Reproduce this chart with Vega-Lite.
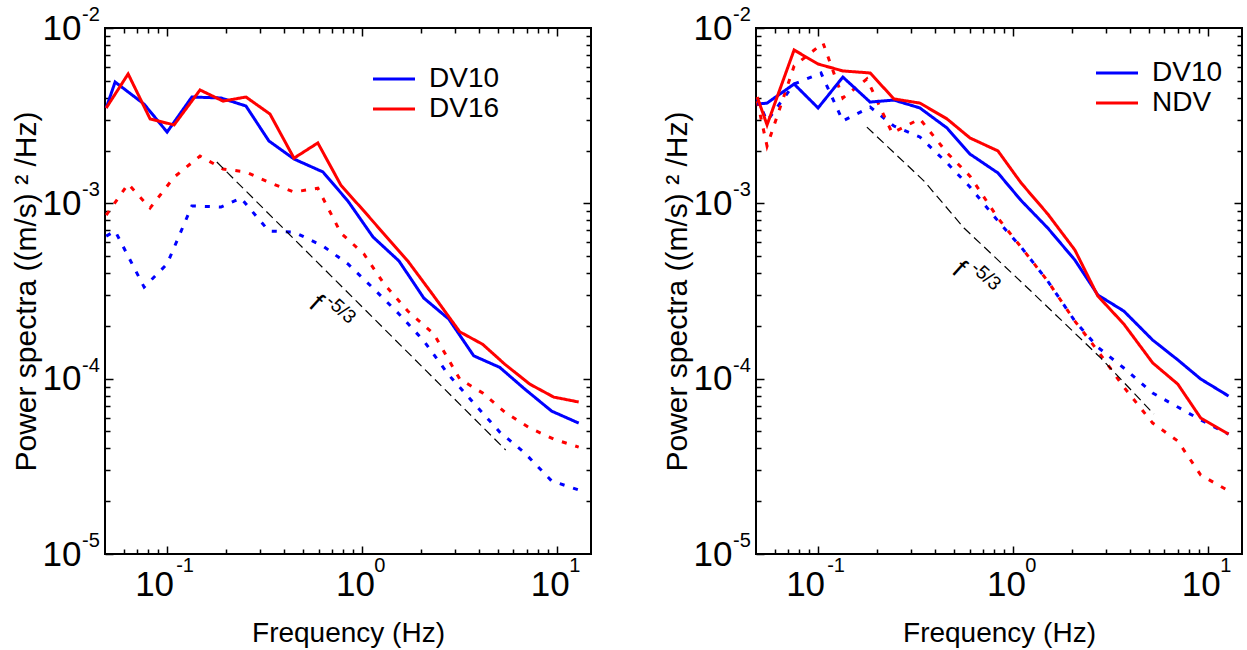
{
  "$schema": "https://vega.github.io/schema/vega-lite/v6.json",
  "padding": {"left": 9, "top": 4, "right": 2, "bottom": 2},
  "spacing": 67,
  "datasets": {
    "left": [
      {"series": "DV10", "kind": "dotted", "f": 0.0487, "p": 6.50e-4},
      {"series": "DV10", "kind": "dotted", "f": 0.0541, "p": 6.95e-4},
      {"series": "DV10", "kind": "dotted", "f": 0.0762, "p": 3.33e-4},
      {"series": "DV10", "kind": "dotted", "f": 0.1, "p": 4.51e-4},
      {"series": "DV10", "kind": "dotted", "f": 0.134, "p": 9.66e-4},
      {"series": "DV10", "kind": "dotted", "f": 0.189, "p": 9.53e-4},
      {"series": "DV10", "kind": "dotted", "f": 0.2396, "p": 1.07e-3},
      {"series": "DV10", "kind": "dotted", "f": 0.333, "p": 6.95e-4},
      {"series": "DV10", "kind": "dotted", "f": 0.448, "p": 6.86e-4},
      {"series": "DV10", "kind": "dotted", "f": 0.631, "p": 5.71e-4},
      {"series": "DV10", "kind": "dotted", "f": 0.848, "p": 4.51e-4},
      {"series": "DV10", "kind": "dotted", "f": 1.14, "p": 3.29e-4},
      {"series": "DV10", "kind": "dotted", "f": 1.55, "p": 2.34e-4},
      {"series": "DV10", "kind": "dotted", "f": 2.08, "p": 1.64e-4},
      {"series": "DV10", "kind": "dotted", "f": 2.79, "p": 1.05e-4},
      {"series": "DV10", "kind": "dotted", "f": 3.75, "p": 7.26e-5},
      {"series": "DV10", "kind": "dotted", "f": 5.10, "p": 4.96e-5},
      {"series": "DV10", "kind": "dotted", "f": 6.85, "p": 3.77e-5},
      {"series": "DV10", "kind": "dotted", "f": 9.42, "p": 2.61e-5},
      {"series": "DV10", "kind": "dotted", "f": 12.97, "p": 2.32e-5},
      {"series": "DV16", "kind": "dotted", "f": 0.0487, "p": 8.57e-4},
      {"series": "DV16", "kind": "dotted", "f": 0.0631, "p": 1.29e-3},
      {"series": "DV16", "kind": "dotted", "f": 0.0818, "p": 9.40e-4},
      {"series": "DV16", "kind": "dotted", "f": 0.1086, "p": 1.41e-3},
      {"series": "DV16", "kind": "dotted", "f": 0.1476, "p": 1.86e-3},
      {"series": "DV16", "kind": "dotted", "f": 0.1937, "p": 1.57e-3},
      {"series": "DV16", "kind": "dotted", "f": 0.254, "p": 1.51e-3},
      {"series": "DV16", "kind": "dotted", "f": 0.3375, "p": 1.31e-3},
      {"series": "DV16", "kind": "dotted", "f": 0.448, "p": 1.16e-3},
      {"series": "DV16", "kind": "dotted", "f": 0.594, "p": 1.22e-3},
      {"series": "DV16", "kind": "dotted", "f": 0.780, "p": 6.77e-4},
      {"series": "DV16", "kind": "dotted", "f": 1.024, "p": 5.14e-4},
      {"series": "DV16", "kind": "dotted", "f": 1.30, "p": 3.47e-4},
      {"series": "DV16", "kind": "dotted", "f": 1.72, "p": 2.43e-4},
      {"series": "DV16", "kind": "dotted", "f": 2.34, "p": 1.80e-4},
      {"series": "DV16", "kind": "dotted", "f": 3.18, "p": 9.95e-5},
      {"series": "DV16", "kind": "dotted", "f": 4.17, "p": 8.28e-5},
      {"series": "DV16", "kind": "dotted", "f": 5.41, "p": 6.45e-5},
      {"series": "DV16", "kind": "dotted", "f": 7.27, "p": 5.23e-5},
      {"series": "DV16", "kind": "dotted", "f": 9.66, "p": 4.52e-5},
      {"series": "DV16", "kind": "dotted", "f": 12.97, "p": 4.07e-5},
      {"series": "DV10", "kind": "solid", "f": 0.0487, "p": 3.50e-3},
      {"series": "DV10", "kind": "solid", "f": 0.0541, "p": 4.92e-3},
      {"series": "DV10", "kind": "solid", "f": 0.0762, "p": 3.68e-3},
      {"series": "DV10", "kind": "solid", "f": 0.1, "p": 2.55e-3},
      {"series": "DV10", "kind": "solid", "f": 0.134, "p": 4.04e-3},
      {"series": "DV10", "kind": "solid", "f": 0.189, "p": 3.99e-3},
      {"series": "DV10", "kind": "solid", "f": 0.254, "p": 3.59e-3},
      {"series": "DV10", "kind": "solid", "f": 0.333, "p": 2.27e-3},
      {"series": "DV10", "kind": "solid", "f": 0.448, "p": 1.79e-3},
      {"series": "DV10", "kind": "solid", "f": 0.631, "p": 1.51e-3},
      {"series": "DV10", "kind": "solid", "f": 0.848, "p": 1.03e-3},
      {"series": "DV10", "kind": "solid", "f": 1.14, "p": 6.43e-4},
      {"series": "DV10", "kind": "solid", "f": 1.55, "p": 4.69e-4},
      {"series": "DV10", "kind": "solid", "f": 2.08, "p": 2.88e-4},
      {"series": "DV10", "kind": "solid", "f": 2.79, "p": 2.19e-4},
      {"series": "DV10", "kind": "solid", "f": 3.75, "p": 1.35e-4},
      {"series": "DV10", "kind": "solid", "f": 5.10, "p": 1.16e-4},
      {"series": "DV10", "kind": "solid", "f": 6.85, "p": 8.73e-5},
      {"series": "DV10", "kind": "solid", "f": 9.42, "p": 6.53e-5},
      {"series": "DV10", "kind": "solid", "f": 12.97, "p": 5.58e-5},
      {"series": "DV16", "kind": "solid", "f": 0.0487, "p": 3.50e-3},
      {"series": "DV16", "kind": "solid", "f": 0.0631, "p": 5.47e-3},
      {"series": "DV16", "kind": "solid", "f": 0.0818, "p": 3.03e-3},
      {"series": "DV16", "kind": "solid", "f": 0.1086, "p": 2.80e-3},
      {"series": "DV16", "kind": "solid", "f": 0.1476, "p": 4.43e-3},
      {"series": "DV16", "kind": "solid", "f": 0.1937, "p": 3.83e-3},
      {"series": "DV16", "kind": "solid", "f": 0.254, "p": 4.04e-3},
      {"series": "DV16", "kind": "solid", "f": 0.3375, "p": 3.23e-3},
      {"series": "DV16", "kind": "solid", "f": 0.448, "p": 1.81e-3},
      {"series": "DV16", "kind": "solid", "f": 0.594, "p": 2.21e-3},
      {"series": "DV16", "kind": "solid", "f": 0.780, "p": 1.27e-3},
      {"series": "DV16", "kind": "solid", "f": 1.024, "p": 9.04e-4},
      {"series": "DV16", "kind": "solid", "f": 1.30, "p": 6.68e-4},
      {"series": "DV16", "kind": "solid", "f": 1.72, "p": 4.69e-4},
      {"series": "DV16", "kind": "solid", "f": 2.34, "p": 2.96e-4},
      {"series": "DV16", "kind": "solid", "f": 3.18, "p": 1.85e-4},
      {"series": "DV16", "kind": "solid", "f": 4.17, "p": 1.57e-4},
      {"series": "DV16", "kind": "solid", "f": 5.41, "p": 1.21e-4},
      {"series": "DV16", "kind": "solid", "f": 7.27, "p": 9.31e-5},
      {"series": "DV16", "kind": "solid", "f": 9.66, "p": 7.85e-5},
      {"series": "DV16", "kind": "solid", "f": 12.97, "p": 7.36e-5}
    ],
    "right": [
      {"series": "DV10", "kind": "dotted", "f": 0.0487, "p": 3.94e-3},
      {"series": "DV10", "kind": "dotted", "f": 0.0547, "p": 2.95e-3},
      {"series": "DV10", "kind": "dotted", "f": 0.0753, "p": 4.79e-3},
      {"series": "DV10", "kind": "dotted", "f": 0.1035, "p": 5.54e-3},
      {"series": "DV10", "kind": "dotted", "f": 0.134, "p": 2.95e-3},
      {"series": "DV10", "kind": "dotted", "f": 0.185, "p": 3.54e-3},
      {"series": "DV10", "kind": "dotted", "f": 0.245, "p": 2.76e-3},
      {"series": "DV10", "kind": "dotted", "f": 0.333, "p": 2.39e-3},
      {"series": "DV10", "kind": "dotted", "f": 0.459, "p": 1.70e-3},
      {"series": "DV10", "kind": "dotted", "f": 0.602, "p": 1.24e-3},
      {"series": "DV10", "kind": "dotted", "f": 0.838, "p": 7.93e-4},
      {"series": "DV10", "kind": "dotted", "f": 1.10, "p": 5.64e-4},
      {"series": "DV10", "kind": "dotted", "f": 1.51, "p": 3.60e-4},
      {"series": "DV10", "kind": "dotted", "f": 2.08, "p": 2.13e-4},
      {"series": "DV10", "kind": "dotted", "f": 2.73, "p": 1.51e-4},
      {"series": "DV10", "kind": "dotted", "f": 3.71, "p": 1.15e-4},
      {"series": "DV10", "kind": "dotted", "f": 5.22, "p": 8.28e-5},
      {"series": "DV10", "kind": "dotted", "f": 7.02, "p": 6.89e-5},
      {"series": "DV10", "kind": "dotted", "f": 9.21, "p": 5.81e-5},
      {"series": "DV10", "kind": "dotted", "f": 12.8, "p": 4.83e-5},
      {"series": "NDV", "kind": "dotted", "f": 0.0487, "p": 3.83e-3},
      {"series": "NDV", "kind": "dotted", "f": 0.0547, "p": 2.12e-3},
      {"series": "NDV", "kind": "dotted", "f": 0.0753, "p": 6.07e-3},
      {"series": "NDV", "kind": "dotted", "f": 0.106, "p": 8.21e-3},
      {"series": "NDV", "kind": "dotted", "f": 0.134, "p": 3.99e-3},
      {"series": "NDV", "kind": "dotted", "f": 0.178, "p": 5.12e-3},
      {"series": "NDV", "kind": "dotted", "f": 0.240, "p": 2.52e-3},
      {"series": "NDV", "kind": "dotted", "f": 0.333, "p": 3.03e-3},
      {"series": "NDV", "kind": "dotted", "f": 0.459, "p": 1.94e-3},
      {"series": "NDV", "kind": "dotted", "f": 0.602, "p": 1.43e-3},
      {"series": "NDV", "kind": "dotted", "f": 0.838, "p": 8.24e-4},
      {"series": "NDV", "kind": "dotted", "f": 1.10, "p": 5.64e-4},
      {"series": "NDV", "kind": "dotted", "f": 1.51, "p": 3.60e-4},
      {"series": "NDV", "kind": "dotted", "f": 2.08, "p": 2.13e-4},
      {"series": "NDV", "kind": "dotted", "f": 2.73, "p": 1.44e-4},
      {"series": "NDV", "kind": "dotted", "f": 3.71, "p": 8.95e-5},
      {"series": "NDV", "kind": "dotted", "f": 5.22, "p": 5.58e-5},
      {"series": "NDV", "kind": "dotted", "f": 7.02, "p": 4.41e-5},
      {"series": "NDV", "kind": "dotted", "f": 9.21, "p": 2.82e-5},
      {"series": "NDV", "kind": "dotted", "f": 12.8, "p": 2.29e-5},
      {"series": "DV10", "kind": "solid", "f": 0.0487, "p": 3.68e-3},
      {"series": "DV10", "kind": "solid", "f": 0.0547, "p": 3.73e-3},
      {"series": "DV10", "kind": "solid", "f": 0.0753, "p": 4.79e-3},
      {"series": "DV10", "kind": "solid", "f": 0.1, "p": 3.50e-3},
      {"series": "DV10", "kind": "solid", "f": 0.134, "p": 5.25e-3},
      {"series": "DV10", "kind": "solid", "f": 0.185, "p": 3.78e-3},
      {"series": "DV10", "kind": "solid", "f": 0.245, "p": 3.88e-3},
      {"series": "DV10", "kind": "solid", "f": 0.333, "p": 3.50e-3},
      {"series": "DV10", "kind": "solid", "f": 0.459, "p": 2.69e-3},
      {"series": "DV10", "kind": "solid", "f": 0.602, "p": 1.91e-3},
      {"series": "DV10", "kind": "solid", "f": 0.838, "p": 1.49e-3},
      {"series": "DV10", "kind": "solid", "f": 1.10, "p": 1.04e-3},
      {"series": "DV10", "kind": "solid", "f": 1.51, "p": 7.23e-4},
      {"series": "DV10", "kind": "solid", "f": 2.08, "p": 4.75e-4},
      {"series": "DV10", "kind": "solid", "f": 2.73, "p": 3.00e-4},
      {"series": "DV10", "kind": "solid", "f": 3.71, "p": 2.43e-4},
      {"series": "DV10", "kind": "solid", "f": 5.22, "p": 1.66e-4},
      {"series": "DV10", "kind": "solid", "f": 7.02, "p": 1.28e-4},
      {"series": "DV10", "kind": "solid", "f": 9.21, "p": 9.95e-5},
      {"series": "DV10", "kind": "solid", "f": 12.8, "p": 7.96e-5},
      {"series": "NDV", "kind": "solid", "f": 0.0487, "p": 4.04e-3},
      {"series": "NDV", "kind": "solid", "f": 0.0547, "p": 2.80e-3},
      {"series": "NDV", "kind": "solid", "f": 0.0753, "p": 7.49e-3},
      {"series": "NDV", "kind": "solid", "f": 0.1, "p": 6.23e-3},
      {"series": "NDV", "kind": "solid", "f": 0.134, "p": 5.69e-3},
      {"series": "NDV", "kind": "solid", "f": 0.185, "p": 5.54e-3},
      {"series": "NDV", "kind": "solid", "f": 0.245, "p": 3.94e-3},
      {"series": "NDV", "kind": "solid", "f": 0.333, "p": 3.73e-3},
      {"series": "NDV", "kind": "solid", "f": 0.459, "p": 3.03e-3},
      {"series": "NDV", "kind": "solid", "f": 0.602, "p": 2.36e-3},
      {"series": "NDV", "kind": "solid", "f": 0.838, "p": 1.99e-3},
      {"series": "NDV", "kind": "solid", "f": 1.10, "p": 1.31e-3},
      {"series": "NDV", "kind": "solid", "f": 1.51, "p": 8.69e-4},
      {"series": "NDV", "kind": "solid", "f": 2.08, "p": 5.42e-4},
      {"series": "NDV", "kind": "solid", "f": 2.73, "p": 2.96e-4},
      {"series": "NDV", "kind": "solid", "f": 3.71, "p": 2.05e-4},
      {"series": "NDV", "kind": "solid", "f": 5.22, "p": 1.23e-4},
      {"series": "NDV", "kind": "solid", "f": 7.02, "p": 9.31e-5},
      {"series": "NDV", "kind": "solid", "f": 9.21, "p": 5.96e-5},
      {"series": "NDV", "kind": "solid", "f": 12.8, "p": 4.83e-5}
    ],
    "leftRef": [
      {"f": 0.18, "p": 1.72e-3},
      {"f": 5.47, "p": 3.92e-5}
    ],
    "rightRef": [
      {"f": 0.178, "p": 2.72e-3},
      {"f": 0.350, "p": 1.34e-3},
      {"f": 0.561, "p": 7.23e-4},
      {"f": 1.237, "p": 3.16e-4},
      {"f": 2.83, "p": 1.31e-4},
      {"f": 5.29, "p": 6.28e-5}
    ],
    "leftF": [{"f": 0.581, "p": 2.70e-4, "t": "f"}],
    "leftE": [{"f": 0.780, "p": 2.49e-4, "t": "-5/3"}],
    "rightF": [{"f": 0.528, "p": 4.22e-4, "t": "f"}],
    "rightE": [{"f": 0.727, "p": 3.85e-4, "t": "-5/3"}],
    "yExp": [
      {"f": 0.048, "p": 0.01, "t": "-2"},
      {"f": 0.048, "p": 0.001, "t": "-3"},
      {"f": 0.048, "p": 0.0001, "t": "-4"},
      {"f": 0.048, "p": 0.00001, "t": "-5"}
    ],
    "xExp": [
      {"f": 0.1, "p": 0.00001, "t": "-1"},
      {"f": 1, "p": 0.00001, "t": "0"},
      {"f": 10, "p": 0.00001, "t": "1"}
    ]
  },
  "hconcat": [
    {
      "width": 486,
      "height": 526,
      "resolve": {"axis": {"x": "independent", "y": "independent"}},
      "layer": [
        {
          "data": {"name": "left"},
          "mark": {"type": "line", "strokeWidth": 3},
          "encoding": {
            "x": {"field": "f", "type": "quantitative", "title": "Frequency (Hz)",
              "scale": {"type": "log", "domain": [0.048, 15], "nice": false},
              "axis": {"orient": "bottom", "values": [0.06,0.07,0.08,0.09,0.1,0.2,0.3,0.4,0.5,0.6,0.7,0.8,0.9,1,2,3,4,5,6,7,8,9,10],
                "tickSize": {"condition": {"test": "abs(log(datum.value)/LN10 - round(log(datum.value)/LN10)) < 0.001", "value": -8}, "value": -5},
                "labelExpr": "abs(log(datum.value)/LN10 - round(log(datum.value)/LN10)) < 0.001 ? '10' : ''",
                "labelOffset": {"condition": {"test": "datum.value < 0.5", "value": -13}, "value": -7},
                "labelPadding": 21, "titleY": 79, "titleBaseline": "middle"}},
            "y": {"field": "p", "type": "quantitative", "title": "Power spectra ((m/s) ² /Hz)",
              "scale": {"type": "log", "domain": [0.00001, 0.01], "nice": false},
              "axis": {"orient": "left", "values": [0.00001,0.00002,0.00003,0.00004,0.00005,0.00006,0.00007,0.00008,0.00009,0.0001,0.0002,0.0003,0.0004,0.0005,0.0006,0.0007,0.0008,0.0009,0.001,0.002,0.003,0.004,0.005,0.006,0.007,0.008,0.009,0.01],
                "tickSize": {"condition": {"test": "abs(log(datum.value)/LN10 - round(log(datum.value)/LN10)) < 0.001", "value": -8}, "value": -5},
                "labelExpr": "abs(log(datum.value)/LN10 - round(log(datum.value)/LN10)) < 0.001 ? '10' : ''",
                "labelPadding": 32, "titleX": -79, "titleBaseline": "middle", "titleFontSize": 30}},
            "color": {"field": "series", "type": "nominal",
              "scale": {"domain": ["DV10", "DV16"], "range": ["#0000ff", "#ff0000"]},
              "legend": {"orient": "none", "legendX": 275, "legendY": 37, "title": null, "symbolType": "M-3,0H3", "symbolSize": 196, "symbolStrokeWidth": 3, "labelFontSize": 28, "labelFont": "Liberation Sans", "labelColor": "black", "labelOffset": 21, "rowPadding": 2, "padding": 0}},
            "strokeDash": {"field": "kind", "type": "nominal",
              "scale": {"domain": ["solid", "dotted"], "range": [[1, 0], [5, 9]]}, "legend": null}
          }
        },
        {
          "data": {"name": "leftRef"},
          "mark": {"type": "line", "color": "black", "strokeWidth": 1.2, "strokeDash": [9, 5]},
          "encoding": {
            "x": {"field": "f", "type": "quantitative",
              "scale": {"type": "log", "domain": [0.048, 15], "nice": false},
              "axis": {"orient": "top", "labels": false, "title": null, "values": [0.06,0.07,0.08,0.09,0.1,0.2,0.3,0.4,0.5,0.6,0.7,0.8,0.9,1,2,3,4,5,6,7,8,9,10],
                "tickSize": {"condition": {"test": "abs(log(datum.value)/LN10 - round(log(datum.value)/LN10)) < 0.001", "value": -8}, "value": -5}}},
            "y": {"field": "p", "type": "quantitative",
              "scale": {"type": "log", "domain": [0.00001, 0.01], "nice": false},
              "axis": {"orient": "right", "labels": false, "title": null, "values": [0.00002,0.00003,0.00004,0.00005,0.00006,0.00007,0.00008,0.00009,0.0001,0.0002,0.0003,0.0004,0.0005,0.0006,0.0007,0.0008,0.0009,0.001,0.002,0.003,0.004,0.005,0.006,0.007,0.008,0.009],
                "tickSize": {"condition": {"test": "abs(log(datum.value)/LN10 - round(log(datum.value)/LN10)) < 0.001", "value": -8}, "value": -5}}}
          }
        },
        {
          "data": {"name": "leftF"},
          "mark": {"type": "text", "angle": 42, "fontSize": 27, "font": "Liberation Sans", "color": "black", "align": "center", "baseline": "middle"},
          "encoding": {
            "x": {"field": "f", "type": "quantitative", "scale": {"type": "log", "domain": [0.048, 15], "nice": false}, "axis": null},
            "y": {"field": "p", "type": "quantitative", "scale": {"type": "log", "domain": [0.00001, 0.01], "nice": false}, "axis": null},
            "text": {"field": "t"}
          }
        },
        {
          "data": {"name": "leftE"},
          "mark": {"type": "text", "angle": 42, "fontSize": 19, "font": "Liberation Sans", "color": "black", "align": "center", "baseline": "middle"},
          "encoding": {
            "x": {"field": "f", "type": "quantitative", "scale": {"type": "log", "domain": [0.048, 15], "nice": false}, "axis": null},
            "y": {"field": "p", "type": "quantitative", "scale": {"type": "log", "domain": [0.00001, 0.01], "nice": false}, "axis": null},
            "text": {"field": "t"}
          }
        },
        {
          "data": {"name": "yExp"},
          "mark": {"type": "text", "fontSize": 20, "font": "Liberation Sans", "color": "black", "align": "center", "baseline": "middle", "dx": -14, "dy": -13},
          "encoding": {
            "x": {"field": "f", "type": "quantitative", "scale": {"type": "log", "domain": [0.048, 15], "nice": false}, "axis": null},
            "y": {"field": "p", "type": "quantitative", "scale": {"type": "log", "domain": [0.00001, 0.01], "nice": false}, "axis": null},
            "text": {"field": "t"}
          }
        },
        {
          "data": {"name": "xExp"},
          "mark": {"type": "text", "fontSize": 20, "font": "Liberation Sans", "color": "black", "align": "center", "baseline": "middle", "dx": 18, "dy": 12},
          "encoding": {
            "x": {"field": "f", "type": "quantitative", "scale": {"type": "log", "domain": [0.048, 15], "nice": false}, "axis": null},
            "y": {"field": "p", "type": "quantitative", "scale": {"type": "log", "domain": [0.00001, 0.01], "nice": false}, "axis": null},
            "text": {"field": "t"}
          }
        }
      ]
    },
    {
      "width": 486,
      "height": 526,
      "resolve": {"axis": {"x": "independent", "y": "independent"}},
      "layer": [
        {
          "data": {"name": "right"},
          "mark": {"type": "line", "strokeWidth": 3},
          "encoding": {
            "x": {"field": "f", "type": "quantitative", "title": "Frequency (Hz)",
              "scale": {"type": "log", "domain": [0.048, 15], "nice": false},
              "axis": {"orient": "bottom", "values": [0.06,0.07,0.08,0.09,0.1,0.2,0.3,0.4,0.5,0.6,0.7,0.8,0.9,1,2,3,4,5,6,7,8,9,10],
                "tickSize": {"condition": {"test": "abs(log(datum.value)/LN10 - round(log(datum.value)/LN10)) < 0.001", "value": -8}, "value": -5},
                "labelExpr": "abs(log(datum.value)/LN10 - round(log(datum.value)/LN10)) < 0.001 ? '10' : ''",
                "labelOffset": {"condition": {"test": "datum.value < 0.5", "value": -13}, "value": -7},
                "labelPadding": 21, "titleY": 79, "titleBaseline": "middle"}},
            "y": {"field": "p", "type": "quantitative", "title": "Power spectra ((m/s) ² /Hz)",
              "scale": {"type": "log", "domain": [0.00001, 0.01], "nice": false},
              "axis": {"orient": "left", "values": [0.00001,0.00002,0.00003,0.00004,0.00005,0.00006,0.00007,0.00008,0.00009,0.0001,0.0002,0.0003,0.0004,0.0005,0.0006,0.0007,0.0008,0.0009,0.001,0.002,0.003,0.004,0.005,0.006,0.007,0.008,0.009,0.01],
                "tickSize": {"condition": {"test": "abs(log(datum.value)/LN10 - round(log(datum.value)/LN10)) < 0.001", "value": -8}, "value": -5},
                "labelExpr": "abs(log(datum.value)/LN10 - round(log(datum.value)/LN10)) < 0.001 ? '10' : ''",
                "labelPadding": 32, "titleX": -79, "titleBaseline": "middle", "titleFontSize": 30}},
            "color": {"field": "series", "type": "nominal",
              "scale": {"domain": ["DV10", "NDV"], "range": ["#0000ff", "#ff0000"]},
              "legend": {"orient": "none", "legendX": 347, "legendY": 31, "title": null, "symbolType": "M-3,0H3", "symbolSize": 196, "symbolStrokeWidth": 3, "labelFontSize": 28, "labelFont": "Liberation Sans", "labelColor": "black", "labelOffset": 21, "rowPadding": 2, "padding": 0}},
            "strokeDash": {"field": "kind", "type": "nominal",
              "scale": {"domain": ["solid", "dotted"], "range": [[1, 0], [5, 9]]}, "legend": null}
          }
        },
        {
          "data": {"name": "rightRef"},
          "mark": {"type": "line", "color": "black", "strokeWidth": 1.2, "strokeDash": [9, 5]},
          "encoding": {
            "x": {"field": "f", "type": "quantitative",
              "scale": {"type": "log", "domain": [0.048, 15], "nice": false},
              "axis": {"orient": "top", "labels": false, "title": null, "values": [0.06,0.07,0.08,0.09,0.1,0.2,0.3,0.4,0.5,0.6,0.7,0.8,0.9,1,2,3,4,5,6,7,8,9,10],
                "tickSize": {"condition": {"test": "abs(log(datum.value)/LN10 - round(log(datum.value)/LN10)) < 0.001", "value": -8}, "value": -5}}},
            "y": {"field": "p", "type": "quantitative",
              "scale": {"type": "log", "domain": [0.00001, 0.01], "nice": false},
              "axis": {"orient": "right", "labels": false, "title": null, "values": [0.00002,0.00003,0.00004,0.00005,0.00006,0.00007,0.00008,0.00009,0.0001,0.0002,0.0003,0.0004,0.0005,0.0006,0.0007,0.0008,0.0009,0.001,0.002,0.003,0.004,0.005,0.006,0.007,0.008,0.009],
                "tickSize": {"condition": {"test": "abs(log(datum.value)/LN10 - round(log(datum.value)/LN10)) < 0.001", "value": -8}, "value": -5}}}
          }
        },
        {
          "data": {"name": "rightF"},
          "mark": {"type": "text", "angle": 42, "fontSize": 27, "font": "Liberation Sans", "color": "black", "align": "center", "baseline": "middle"},
          "encoding": {
            "x": {"field": "f", "type": "quantitative", "scale": {"type": "log", "domain": [0.048, 15], "nice": false}, "axis": null},
            "y": {"field": "p", "type": "quantitative", "scale": {"type": "log", "domain": [0.00001, 0.01], "nice": false}, "axis": null},
            "text": {"field": "t"}
          }
        },
        {
          "data": {"name": "rightE"},
          "mark": {"type": "text", "angle": 42, "fontSize": 19, "font": "Liberation Sans", "color": "black", "align": "center", "baseline": "middle"},
          "encoding": {
            "x": {"field": "f", "type": "quantitative", "scale": {"type": "log", "domain": [0.048, 15], "nice": false}, "axis": null},
            "y": {"field": "p", "type": "quantitative", "scale": {"type": "log", "domain": [0.00001, 0.01], "nice": false}, "axis": null},
            "text": {"field": "t"}
          }
        },
        {
          "data": {"name": "yExp"},
          "mark": {"type": "text", "fontSize": 20, "font": "Liberation Sans", "color": "black", "align": "center", "baseline": "middle", "dx": -14, "dy": -13},
          "encoding": {
            "x": {"field": "f", "type": "quantitative", "scale": {"type": "log", "domain": [0.048, 15], "nice": false}, "axis": null},
            "y": {"field": "p", "type": "quantitative", "scale": {"type": "log", "domain": [0.00001, 0.01], "nice": false}, "axis": null},
            "text": {"field": "t"}
          }
        },
        {
          "data": {"name": "xExp"},
          "mark": {"type": "text", "fontSize": 20, "font": "Liberation Sans", "color": "black", "align": "center", "baseline": "middle", "dx": 18, "dy": 12},
          "encoding": {
            "x": {"field": "f", "type": "quantitative", "scale": {"type": "log", "domain": [0.048, 15], "nice": false}, "axis": null},
            "y": {"field": "p", "type": "quantitative", "scale": {"type": "log", "domain": [0.00001, 0.01], "nice": false}, "axis": null},
            "text": {"field": "t"}
          }
        }
      ]
    }
  ],
  "resolve": {"scale": {"color": "independent", "strokeDash": "independent"}, "legend": {"color": "independent", "strokeDash": "independent"}},
  "config": {
    "font": "Liberation Sans",
    "background": "white",
    "view": {"stroke": "black", "strokeWidth": 2},
    "axis": {"domain": false, "grid": false, "tickColor": "black", "tickWidth": 1.5,
      "labelFont": "Liberation Sans", "labelFontSize": 35, "labelColor": "black",
      "titleFont": "Liberation Sans", "titleFontSize": 28, "titleFontWeight": "normal", "titleColor": "black",
      "labelOverlap": false, "labelFlush": false}
  }
}
